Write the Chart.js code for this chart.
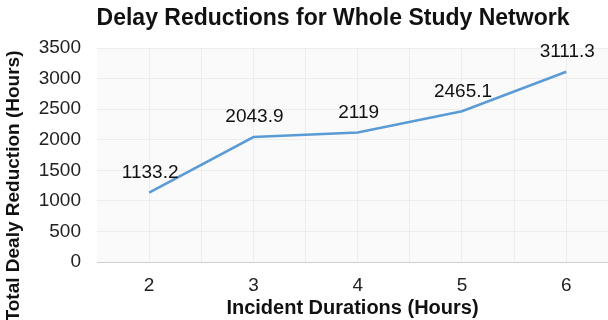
<!DOCTYPE html>
<html>
<head>
<meta charset="utf-8">
<script src="https://cdn.jsdelivr.net/npm/chart.js@4"></script>
<style>
  html, body { margin: 0; padding: 0; background: #fff; }
  #wrap { width: 608px; height: 320px; }
</style>
</head>
<body>
<div id="wrap"><canvas id="chart"></canvas></div>
<script>
const durations = [2, 3, 4, 5, 6];
const delayReductions = [1133.2, 2043.9, 2119, 2465.1, 3111.3];
const yTicks = [0, 500, 1000, 1500, 2000, 2500, 3000, 3500];

const FONT = '"Liberation Sans", Arial, sans-serif';

// chart title, y title and the value labels, placed by hand
const textLayer = {
    id: 'textLayer',
    afterDatasetsDraw(chart) {
        const ctx = chart.ctx;
        const meta = chart.getDatasetMeta(0);
        ctx.save();
        ctx.fillStyle = '#111';
        ctx.textAlign = 'center';
        ctx.textBaseline = 'middle';

        ctx.font = '19px ' + FONT;
        meta.data.forEach((pt, i) => {
            ctx.fillText(String(delayReductions[i]), pt.x + 1, pt.y - 20);
        });

        ctx.font = 'bold 23px ' + FONT;
        ctx.fillText('Delay Reductions for Whole Study Network', 333, 19);

        ctx.translate(14, 186);
        ctx.rotate(-Math.PI / 2);
        ctx.font = 'bold 19px ' + FONT;
        ctx.fillText('Total Dealy Reduction (Hours)', 0, 0);
        ctx.restore();
    }
};

const areaBg = {
    id: 'areaBg',
    beforeDraw(chart) {
        const { ctx, chartArea: a } = chart;
        ctx.save();
        ctx.fillStyle = '#fafafa';
        ctx.fillRect(a.left, a.top, a.right - a.left, a.bottom - a.top);
        ctx.restore();
    }
};

new Chart(document.getElementById('chart'), {
    type: 'line',
    data: {
        datasets: [{
            data: durations.map((d, i) => ({ x: d, y: delayReductions[i] })),
            borderColor: '#5b9bd5',
            borderWidth: 2.5,
            pointRadius: 0,
            tension: 0
        }]
    },
    options: {
        responsive: true,
        maintainAspectRatio: false,
        animation: false,
        layout: { padding: { left: 0, right: 0, top: 48, bottom: 0 } },
        plugins: {
            legend: { display: false },
            tooltip: { enabled: false },
            title: { display: false }
        },
        scales: {
            x: {
                type: 'linear',
                min: 1.5,
                max: 6.4,
                afterBuildTicks: (axis) => {
                    axis.ticks = [2, 2.5, 3, 3.5, 4, 4.5, 5, 5.5, 6].map(v => ({ value: v }));
                },
                afterFit: (axis) => { axis.height = 58; },
                grid: { color: '#ededed', drawTicks: false },
                border: { display: false },
                ticks: {
                    color: '#222',
                    padding: 12,
                    maxRotation: 0,
                    autoSkip: false,
                    callback: (v) => Number.isInteger(v) ? String(v) : '',
                    font: { family: FONT, size: 19 }
                },
                title: {
                    display: true,
                    text: 'Incident Durations (Hours)',
                    color: '#111',
                    padding: { top: 0, bottom: 0 },
                    font: { family: FONT, size: 20, weight: 'bold' }
                }
            },
            y: {
                min: 0,
                max: 3500,
                afterBuildTicks: (axis) => { axis.ticks = yTicks.map(v => ({ value: v })); },
                afterFit: (axis) => { axis.width = 97; },
                grid: {
                    color: (c) => c.tick && c.tick.value === 0 ? '#cfcfcf' : '#ededed',
                    drawTicks: false
                },
                border: { display: false },
                ticks: {
                    color: '#222',
                    padding: 16,
                    callback: (v) => String(v),
                    font: { family: FONT, size: 19 }
                }
            }
        }
    },
    plugins: [areaBg, textLayer]
});
</script>
</body>
</html>
